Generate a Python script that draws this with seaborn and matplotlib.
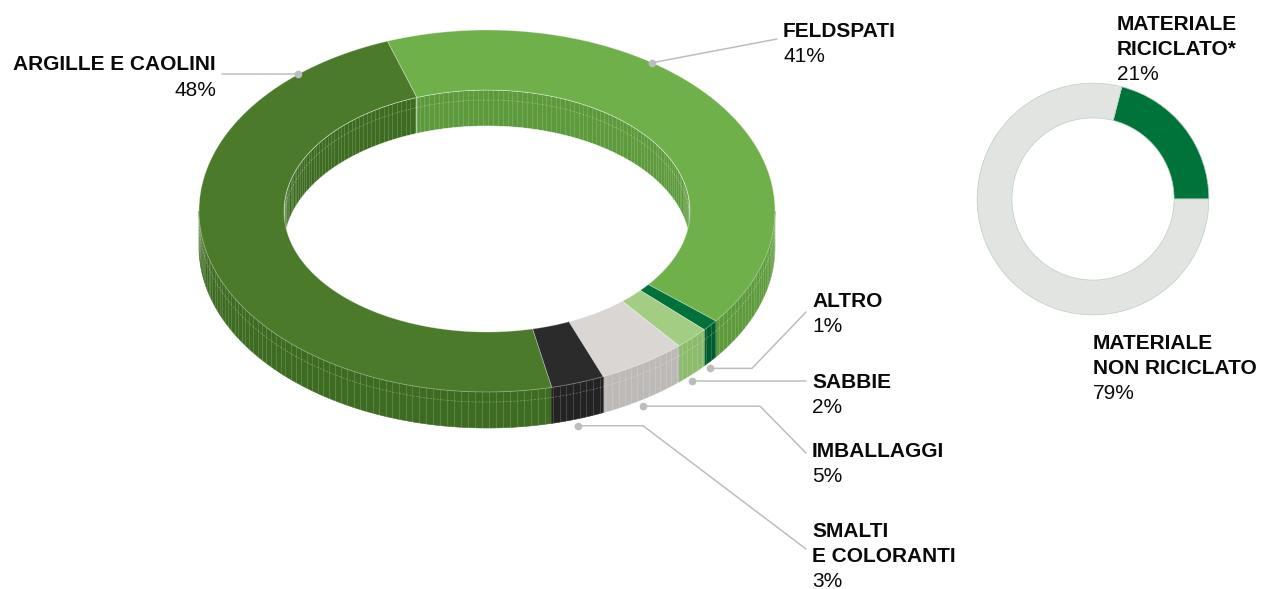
import numpy as np
import matplotlib.pyplot as plt
import seaborn as sns
from matplotlib.collections import LineCollection

# composition of raw materials (left ring)
categories = ["ARGILLE E CAOLINI", "FELDSPATI", "ALTRO", "SABBIE", "IMBALLAGGI", "SMALTI\nE COLORANTI"]
shares = [48, 41, 1, 2, 5, 3]
top_colors = ["#4a7a2a", "#6fb04b", "#00713b", "#a3cd83", "#d9d6d3", "#2c2b2c"]
side_colors = ["#3e6b22", "#5c9a3b", "#005c2f", "#8dbb6e", "#bcb9b6", "#232323"]

# recycled vs non recycled (right ring)
recycled_labels = ["MATERIALE\nRICICLATO*", "MATERIALE\nNON RICICLATO"]
recycled_shares = [21, 79]
recycled_colors = ["#00733a", "#e2e4e2"]

sns.set_theme(style="white")
plt.rcParams["font.family"] = ["Liberation Sans", "DejaVu Sans"]

fig = plt.figure(figsize=(12.64, 5.89), dpi=100)
ax = fig.add_axes([0, 0, 1, 1])
ax.set_xlim(0, 1264)
ax.set_ylim(589, 0)
ax.axis("off")

cx, cy = 487, 211
ra, rb = 288, 181
ia, ib = 203, 121
depth = 36
start = -77


def ell(a, b, t, dy=0.0):
    r = np.radians(t)
    return cx + a * np.cos(r), cy - b * np.sin(r) + dy


def clip(t_hi, t_lo, front):
    # pieces of [t_lo, t_hi] where the wall faces the viewer
    out = []
    for k in range(-3, 3):
        lo, hi = (-180 + 360 * k, 360 * k) if front else (360 * k, 180 + 360 * k)
        a, b = max(lo, t_lo), min(hi, t_hi)
        if b > a:
            out.append((a, b))
    return out


edges = start - np.concatenate([[0], np.cumsum(shares)]) * 3.6
segs = list(zip(edges[:-1], edges[1:]))


def wall(a, b, lo, hi, face, side):
    t = np.linspace(lo, hi, 120)
    x1, y1 = ell(a, b, t)
    x2, y2 = ell(a, b, t[::-1], depth)
    ax.fill(np.r_[x1, x2], np.r_[y1, y2], color=face, lw=0.4, ec=side, zorder=2 if side else 1)
    ts = np.arange(np.ceil(lo / 1.4) * 1.4, hi, 1.4)
    xa, ya = ell(a, b, ts)
    xb, yb = ell(a, b, ts, depth)
    lines = [[(p, q), (r, s)] for p, q, r, s in zip(xa, ya, xb, yb)]
    ax.add_collection(LineCollection(lines, colors="white", linewidths=0.45, alpha=0.25, zorder=3))
    xm, ym = ell(a, b, t, depth * 0.28)
    ax.plot(xm, ym, color="white", lw=0.5, alpha=0.35, ls=(0, (3, 2)), zorder=3)


# inner walls at the back, then outer walls at the front
for (t1, t2), c in zip(segs, side_colors):
    for lo, hi in clip(t1, t2, front=False):
        wall(ia, ib, lo, hi, c, None)
for (t1, t2), c in zip(segs, side_colors):
    for lo, hi in clip(t1, t2, front=True):
        wall(ra, rb, lo, hi, c, c)

# top faces
for (t1, t2), c in zip(segs, top_colors):
    t = np.linspace(t1, t2, 200)
    xo, yo = ell(ra, rb, t)
    xi, yi = ell(ia, ib, t[::-1])
    ax.fill(np.r_[xo, xi], np.r_[yo, yi], color=c, ec=(1, 1, 1, 0.35), lw=0.6, zorder=5)

# labels and leaders
line_kw = dict(color="#bdbdbd", lw=1.1, zorder=6)
dot_kw = dict(marker="o", ms=4.5, color="#bdbdbd", zorder=7)
name_kw = dict(fontsize=15, fontweight="bold", color="#0a0a0a", va="baseline")
pct_kw = dict(fontsize=15, color="#0a0a0a", va="baseline")


def label(x, y, name, pct, ha="left", step=25.5):
    rows = name.split("\n")
    for i, r in enumerate(rows):
        ax.text(x, y + i * step, r, ha=ha, **name_kw)
    ax.text(x, y + len(rows) * step, f"{pct}%", ha=ha, **pct_kw)


mids = [(a + b) / 2 for a, b in segs]

# big slices: anchor on the outer top edge
px, py = ell(ra, rb, 131)
ax.plot([px, 222], [py, py], **line_kw)
ax.plot(px, py, **dot_kw)
label(216, 70, categories[0], shares[0], ha="right")

px, py = ell(ra, rb, 55)
ax.plot([px, 777], [py, 39], **line_kw)
ax.plot(px, py, **dot_kw)
label(783, 37, categories[1], shares[1])

# small slices: anchor under the outer wall
elbows = [752, None, 760, 643]
targets = [312, 389, 453, 549]
baselines = [307, 388, 457, 537]
for i, (ex, ty, bl) in enumerate(zip(elbows, targets, baselines), start=2):
    px, py = ell(ra, rb, mids[i], depth + 7)
    xs, ys = [px], [py]
    if ex is not None:
        xs.append(ex)
        ys.append(py)
    xs.append(806)
    ys.append(ty if ex is not None else py)
    ax.plot(xs, ys, **line_kw)
    ax.plot(px, py, **dot_kw)
    label(812, bl, categories[i], shares[i], step=25)

# right ring
ax2 = fig.add_axes([976 / 1264, (589 - 316) / 589, 234 / 1264, 234 / 589])
ax2.pie(recycled_shares, colors=recycled_colors, startangle=recycled_shares[0] * 3.6,
        counterclock=False, radius=1,
        wedgeprops=dict(width=0.3, edgecolor="#b7d0c0", linewidth=0.5))
ax2.set_xlim(-1.01, 1.01)
ax2.set_ylim(-1.01, 1.01)
ax2.axis("off")

label(1117, 30, recycled_labels[0], recycled_shares[0], step=25)
label(1093, 349, recycled_labels[1], recycled_shares[1], step=25)

fig.savefig("out.png", dpi=100)
